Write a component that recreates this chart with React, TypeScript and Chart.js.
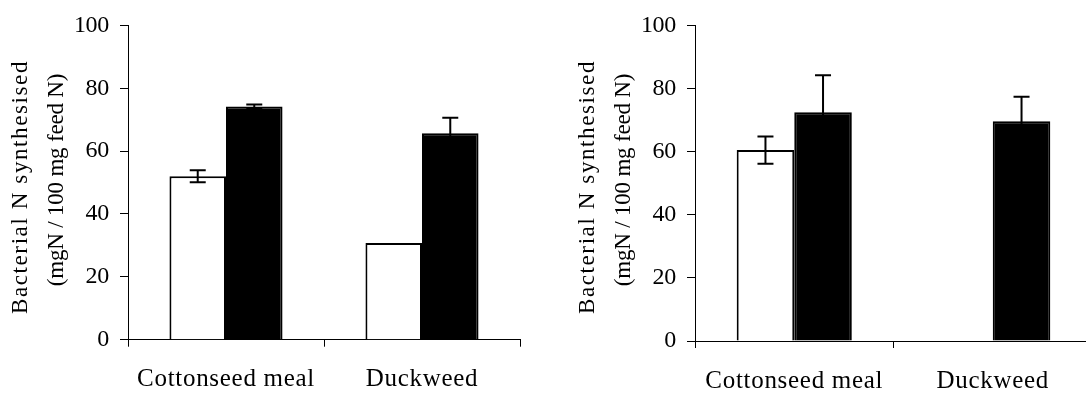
import React, { useEffect, useRef } from 'react';
import { Chart, registerables } from 'chart.js';

Chart.register(...registerables);

// ---- data ----
const categories = ['Cottonseed meal', 'Duckweed'];
const yTickValues = [0, 20, 40, 60, 80, 100];
const yTitleLines = ['Bacterial N synthesised', '(mgN / 100 mg feed N)'];

const leftOpen = [52.0, 30.8];
const leftOpenErr = [1.9, 0];
const leftSolid = [74.2, 65.7];
const leftSolidErr = [0.6, 4.9];

const rightOpen = [60.5, 0];
const rightOpenErr = [4.3, 0];
const rightSolid = [72.5, 69.6];
const rightSolidErr = [11.7, 7.8];

const FONT = '"Liberation Serif", "Times New Roman", serif';

// error bars + per-scale letter spacing + y title
const decorPlugin = {
  id: 'decor',
  beforeDraw(chart: any) {
    chart.ctx.letterSpacing = '-0.3px'; // y tick digits
  },
  afterDatasetsDraw(chart: any) {
    const ctx = chart.ctx;
    const yScale = chart.scales.y;
    const cap = 16;
    chart.data.datasets.forEach((ds: any, di: number) => {
      const errs = ds.errors;
      if (!errs) return;
      const meta = chart.getDatasetMeta(di);
      meta.data.forEach((bar: any, i: number) => {
        const e = errs[i];
        if (!e) return;
        const v = ds.data[i];
        const x = bar.x;
        const top = yScale.getPixelForValue(v + e);
        const bot = yScale.getPixelForValue(v - e);
        ctx.save();
        ctx.strokeStyle = '#000';
        ctx.lineWidth = 2;
        ctx.beginPath();
        ctx.moveTo(x, top);
        ctx.lineTo(x, bot);
        ctx.moveTo(x - cap / 2, top);
        ctx.lineTo(x + cap / 2, top);
        ctx.moveTo(x - cap / 2, bot);
        ctx.lineTo(x + cap / 2, bot);
        ctx.stroke();
        ctx.restore();
      });
    });
    ctx.letterSpacing = '0.7px'; // x category labels (drawn in a later layer)
  },
  afterDraw(chart: any, _args: any, opts: any) {
    const ctx = chart.ctx;
    ctx.save();
    ctx.fillStyle = '#000';
    ctx.textAlign = 'center';
    ctx.textBaseline = 'middle';
    yTitleLines.forEach((line, i) => {
      ctx.save();
      ctx.letterSpacing = opts.spacing[i];
      ctx.font = `23px ${FONT}`;
      ctx.translate(opts.xs[i], opts.ys[i]);
      ctx.rotate(-Math.PI / 2);
      ctx.fillText(line, 0, 0);
      ctx.restore();
    });
    ctx.restore();
  },
};

type PanelProps = {
  left: number;
  width: number;
  open: number[];
  openErr: number[];
  solid: number[];
  solidErr: number[];
  area: { l: number; r: number; t: number; b: number };
  catPct: number;
  titleXs: number[];
  titleYs: number[];
};

function Panel(p: PanelProps) {
  const ref = useRef<HTMLCanvasElement | null>(null);
  useEffect(() => {
    if (!ref.current) return;
    const H = 396;
    const chart = new Chart(ref.current, {
      type: 'bar',
      data: {
        labels: categories,
        datasets: [
          {
            data: p.open,
            errors: p.openErr,
            backgroundColor: '#fff',
            borderColor: '#000',
            borderWidth: 2,
          } as any,
          {
            data: p.solid,
            errors: p.solidErr,
            backgroundColor: '#000',
            borderColor: '#000',
            borderWidth: 2,
          } as any,
        ],
      },
      options: {
        animation: false,
        responsive: false,
        events: [],
        layout: {
          padding: { left: 0, top: p.area.t, right: p.width - p.area.r, bottom: 0 },
        },
        datasets: {
          bar: { barPercentage: 1, categoryPercentage: p.catPct },
        },
        plugins: {
          legend: { display: false },
          tooltip: { enabled: false },
          decor: { xs: p.titleXs, ys: p.titleYs, spacing: ['1.6px', '-0.2px'] },
        } as any,
        scales: {
          x: {
            type: 'category',
            offset: true,
            afterFit: (s: any) => {
              s.height = H - p.area.b;
            },
            grid: {
              offset: true,
              drawOnChartArea: false,
              drawTicks: true,
              tickLength: 7,
              color: '#000',
              lineWidth: 1,
              z: 0,
            },
            border: { display: true, color: '#000', width: 1, z: 0 },
            ticks: {
              autoSkip: false,
              maxRotation: 0,
              padding: 18,
              color: '#000',
              z: 1,
              font: { family: FONT, size: 25, lineHeight: 1.2 },
            },
          } as any,
          y: {
            min: 0,
            max: 100,
            afterFit: (s: any) => {
              s.width = p.area.l;
            },
            afterBuildTicks: (s: any) => {
              s.ticks = yTickValues.map((v) => ({ value: v }));
            },
            grid: {
              drawOnChartArea: false,
              drawTicks: true,
              tickLength: 8,
              color: '#000',
              lineWidth: 1,
            },
            border: { display: true, color: '#000', width: 1 },
            ticks: {
              padding: 11,
              color: '#000',
              font: { family: FONT, size: 24 },
            },
          },
        },
      },
      plugins: [decorPlugin],
    });
    return () => chart.destroy();
  }, []);
  return (
    <div style={{ position: 'absolute', left: p.left, top: 0, width: p.width, height: 396 }}>
      <canvas ref={ref} width={p.width} height={396} style={{ display: 'block' }} />
    </div>
  );
}

export default function App() {
  return (
    <div
      style={{
        position: 'fixed',
        left: 0,
        top: 0,
        width: 1086,
        height: 396,
        overflow: 'hidden',
        background: '#fff',
      }}
    >
      <Panel
        left={0}
        width={543}
        open={leftOpen}
        openErr={leftOpenErr}
        solid={leftSolid}
        solidErr={leftSolidErr}
        area={{ l: 128, r: 520, t: 22.7, b: 339.7 }}
        catPct={0.577}
        titleXs={[21, 57]}
        titleYs={[187, 180]}
      />
      <Panel
        left={543}
        width={560}
        open={rightOpen}
        openErr={rightOpenErr}
        solid={rightSolid}
        solidErr={rightSolidErr}
        area={{ l: 152, r: 549, t: 20.5, b: 341 }}
        catPct={0.58}
        titleXs={[45, 81]}
        titleYs={[187, 180]}
      />
    </div>
  );
}
